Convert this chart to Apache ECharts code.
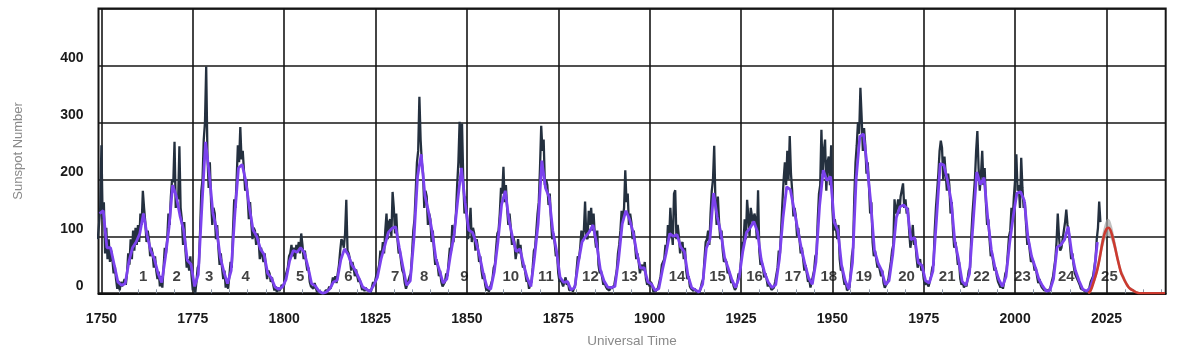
<!DOCTYPE html>
<html>
<head>
<meta charset="utf-8">
<script src="https://cdn.jsdelivr.net/npm/echarts@6/dist/echarts.min.js"></script>
<style>
  html, body { margin: 0; padding: 0; background: #ffffff; }
  #chart { width: 1200px; height: 347px; }
</style>
</head>
<body>
<div id="chart"></div>
<script>
// Observed sunspot number, three samples per year starting at 1749.0
const observedStart = 1749;
const observedPerYear = 3;
const observed = [
  95,120,150, 260,130,160, 70,115,60, 95,55,75, 60,35,48, 25,8,22, 5,20,12, 10,25,15, 35,70,50, 95,60,110,
  75,115,85, 120,90,140, 120,180,150, 125,90,110, 95,65,80, 70,45,65, 40,25,38, 12,30,10, 45,80,70, 95,140,120,
  170,200,195, 266,150,170, 165,258,150, 130,85,125, 75,45,60, 40,65,30, 5,20,0, 20,45,50, 110,180,200, 270,300,398,
  245,185,230, 160,120,150, 140,95,120, 80,50,70, 45,25,40, 10,22,8, 30,55,45, 110,165,150, 200,260,230, 292,235,250,
  215,180,200, 170,130,160, 125,95,115, 110,85,105, 95,60,80, 80,55,70, 45,25,40, 35,20,28, 15,5,12, 2,10,4,
  8,15,10, 15,30,28, 45,65,70, 85,65,80, 60,85,75, 90,70,105, 85,60,75, 55,40,45, 20,12,15, 8,18,10,
  2,6,0, 0,0,0, 0,5,2, 5,12,8, 15,28,22, 30,18,35, 50,75,95, 90,80,105, 164,75,70, 60,40,55,
  45,30,42, 30,20,25, 15,6,10, 4,10,5, 2,5,1, 10,20,15, 25,35,40, 50,75,65, 90,70,110, 140,95,125,
  130,100,178, 150,105,140, 95,70,75, 55,40,35, 18,8,15, 15,30,35, 70,110,130, 180,230,250, 345,270,230, 210,150,180,
  170,120,140, 130,90,110, 75,50,60, 50,30,40, 20,12,15, 20,35,30, 55,80,75, 120,90,115, 140,190,230, 301,220,298,
  200,140,170, 130,95,120, 150,90,115, 105,75,95, 80,55,65, 40,25,35, 15,5,10, 3,10,8, 25,45,50, 80,105,110,
  140,185,175, 222,160,190, 150,120,140, 115,85,100, 90,60,75, 95,70,85, 60,45,50, 35,20,25, 8,15,20, 45,75,80,
  110,140,160, 220,294,250, 270,190,200, 190,155,175, 130,95,105, 90,65,70, 35,20,25, 25,12,20, 28,15,20, 5,2,8,
  3,10,15, 40,65,60, 80,110,95, 110,161,100, 95,145,120, 150,110,140, 100,80,110, 50,35,40, 28,15,20, 12,8,10,
  5,12,8, 6,15,18, 40,70,85, 110,145,130, 150,216,160, 175,120,140, 125,95,110, 85,60,70, 55,35,45, 50,40,55,
  25,15,20, 12,20,15, 3,6,4, 5,10,8, 30,50,55, 60,85,75, 120,95,150, 110,85,175, 181,95,120, 100,70,85,
  90,60,80, 40,25,30, 12,8,10, 4,8,5, 1,3,2, 10,20,25, 60,90,95, 110,85,140, 180,200,259, 160,120,170,
  125,95,110, 75,55,60, 55,35,40, 30,18,22, 12,6,10, 20,35,30, 60,90,85, 130,95,164, 135,100,150, 150,120,140,
  130,95,181, 75,50,55, 45,28,35, 25,12,18, 12,6,8, 10,20,18, 45,75,70, 115,160,200, 230,190,250, 200,276,210,
  180,135,150, 135,100,115, 95,70,80, 60,40,50, 35,20,25, 10,20,18, 40,65,70, 130,175,190, 287,210,250, 270,180,230,
  240,190,260, 150,110,130, 130,95,120, 60,40,45, 28,15,20, 5,2,10, 35,65,80, 170,230,260, 300,280,361, 310,250,290,
  260,210,230, 190,140,160, 90,65,75, 60,45,50, 50,30,40, 18,10,14, 18,25,28, 55,75,85, 165,140,150, 165,140,170,
  170,193,150, 165,140,150, 110,80,95, 120,85,95, 65,45,55, 60,40,45, 25,15,20, 20,12,22, 30,45,50, 110,150,180,
  210,250,268, 255,200,240, 240,180,210, 190,140,160, 110,80,90, 75,50,55, 25,15,20, 10,18,12, 25,40,45, 100,140,170,
  200,250,285, 220,180,210, 250,190,220, 160,120,130, 95,65,70, 55,40,45, 30,20,22, 10,15,8, 20,35,40, 70,100,110,
  150,130,170, 200,244,180, 190,150,238, 185,150,160, 120,85,95, 75,55,60, 55,40,45, 30,18,25, 15,10,12, 5,2,6,
  2,5,10, 20,28,30, 60,90,140, 100,75,80, 80,110,125, 147,120,110, 85,60,70, 50,35,30, 25,20,15, 8,5,6,
  6,2,1, 5,10,20, 20,30,45, 60,95,115, 161,125
];

// Smoothed sunspot number, one value per year centred at mid-year
const smoothedStart = 1749.5;
const smoothed = [
  140,145,80,80,50,20,14,17,55,80,
  90,105,140,102,75,60,35,19,63,116,
  190,170,136,111,58,51,12,33,154,266,
  210,141,113,64,38,17,40,138,220,226,
  197,150,111,100,78,68,35,27,11,7,
  11,24,57,75,72,80,72,47,17,13,
  4,0,2,8,20,23,59,78,68,50,
  40,26,11,7,3,14,28,60,83,107,
  114,117,80,46,14,22,95,205,244,172,
  143,108,61,40,18,25,67,103,164,220,
  160,111,107,90,65,34,11,7,38,91,
  156,180,129,98,73,78,51,27,12,63,
  123,233,185,169,110,75,28,19,21,6,
  10,54,90,100,108,120,87,42,22,11,
  10,12,59,122,145,130,107,70,44,45,
  20,16,5,8,41,70,105,100,103,81,
  73,31,10,6,2,16,79,95,176,134,
  106,63,44,24,10,28,74,107,115,126,
  108,60,35,19,10,15,60,133,187,182,
  148,113,79,51,27,16,55,154,216,198,
  205,125,110,50,22,7,54,200,275,280,
  225,159,76,53,40,15,22,67,133,152,
  155,148,94,98,54,49,22,18,39,131,
  228,225,198,162,91,60,21,14,34,123,
  213,191,203,133,76,45,25,12,29,88,
  136,176,178,163,99,65,46,25,13,4,
  5,25,81,85,94,117,70,40,22,7,
  4,9,29,90
];

// Cycle 25 forecast with its uncertainty range
const forecastYears = [2020,2020.5,2021,2021.5,2022,2022.5,2023,2023.5,2024,2024.5,2025,2025.5,2026,2026.5,2027,2027.5,2028,2028.5,2029,2029.5,2030,2030.5,2031,2031.5,2032,2032.5,2033,2033.5,2034,2041];
const forecastValues = [0,3,10,20,30,42,57,75,92,105,113,115,112,103,90,76,61,48,36,29,22,16,11,8,6,4,2,1,0,0];
const forecastLow  = [0,1,6,15,23,34,47,63,79,91,99,101,98,90,79,66,52,40,30,24,17,12,8,5,4,2,1,0,0,0];
const forecastHigh = [0,6,15,27,39,53,70,90,108,121,129,131,128,118,104,89,72,58,44,36,28,21,15,11,9,7,4,2,1,0];

// Solar cycle numbers and where they are written
const cycleNames = ['1','2','3','4','5','6','7','8','9','10','11','12','13','14','15','16','17','18','19','20','21','22','23','24','25'];
const cycleYears = [1761.4,1770.6,1779.5,1789.5,1804.4,1817.6,1830.4,1838.3,1849.3,1862.0,1871.6,1883.8,1894.5,1907.5,1918.6,1928.7,1939.2,1949.0,1958.6,1970.3,1981.4,1990.8,2002.0,2014.0,2025.8];

// Axis ticks
const yearTicks = [1750,1775,1800,1825,1850,1875,1900,1925,1950,1975,2000,2025];
const minorYearTicks = [1755,1760,1765,1770,1780,1785,1790,1795,1805,1810,1815,1820,1830,1835,1840,1845,1855,1860,1865,1870,1880,1885,1890,1895,1905,1910,1915,1920,1930,1935,1940,1945,1955,1960,1965,1970,1980,1985,1990,1995,2005,2010,2015,2020,2030,2035,2040];
const yTickLabels = [0,100,200,300,400];

const xMin = 1749.2, xMax = 2041.2;
const cycleLabelLevel = 29;
const font = "'Liberation Sans', Arial, Helvetica, sans-serif";
const gridColor = '#161616';

const observedPoints = observed.map((v, i) => [observedStart + i / observedPerYear, v]);
const smoothedPoints = smoothed.map((v, i) => [smoothedStart + i, v]);
const forecastPoints = forecastYears.map((y, i) => [y, forecastValues[i]]);
const cyclePoints = cycleYears.map((y, i) => ({ value: [y, cycleLabelLevel], name: cycleNames[i] }));

// Shaded uncertainty band: upper bound left to right, then lower bound back
function renderBand(params, api) {
  if (params.dataIndex !== 0) return null;
  const pts = [];
  for (let i = 0; i < forecastYears.length; i++) pts.push(api.coord([forecastYears[i], forecastHigh[i]]));
  for (let i = forecastYears.length - 1; i >= 0; i--) pts.push(api.coord([forecastYears[i], forecastLow[i]]));
  return {
    type: 'polygon',
    shape: { points: pts, smooth: 0.25 },
    style: { fill: 'rgba(165,165,165,0.7)', stroke: 'none' }
  };
}

const chart = echarts.init(document.getElementById('chart'), null, { renderer: 'canvas' });
chart.setOption({
  animation: false,
  backgroundColor: '#ffffff',
  grid: {
    left: 98.5, right: 34.3, top: 8.5, bottom: 53.7,
    outerBoundsMode: 'none', containLabel: false,
    show: true, borderColor: gridColor, borderWidth: 2, backgroundColor: 'transparent'
  },
  xAxis: [
    {
      type: 'value', min: xMin, max: xMax,
      axisLine: { show: true, onZero: false, lineStyle: { color: '#111', width: 2 } },
      axisTick: { show: false, customValues: yearTicks },
      axisLabel: {
        customValues: yearTicks, margin: 19, formatter: v => String(v),
        fontFamily: font, fontSize: 14, fontWeight: 'bold', color: '#1a1a1a'
      },
      splitLine: { show: true, lineStyle: { color: gridColor, width: 1.6 } },
      name: 'Universal Time', nameLocation: 'middle', nameGap: 41,
      nameTextStyle: { fontFamily: font, fontSize: 13.5, color: '#8a8a8a' }
    },
    {
      type: 'value', min: xMin, max: xMax, position: 'bottom',
      axisLine: { show: false },
      axisTick: { show: true, inside: true, length: 4, customValues: minorYearTicks,
                  lineStyle: { color: '#8d97a6', width: 1 } },
      axisLabel: { show: false },
      splitLine: { show: false }
    }
  ],
  yAxis: {
    type: 'value', min: 0, max: 500, interval: 100,
    axisLine: { show: false },
    axisTick: { show: false },
    axisLabel: {
      margin: 15, verticalAlign: 'bottom',
      formatter: v => (yTickLabels.indexOf(v) >= 0 ? String(v) : ''),
      fontFamily: font, fontSize: 14, fontWeight: 'bold', color: '#1a1a1a'
    },
    splitLine: { show: true, lineStyle: { color: gridColor, width: 1.6 } },
    name: 'Sunspot Number', nameLocation: 'middle', nameGap: 74,
    nameTextStyle: { fontFamily: font, fontSize: 13, color: '#8a8a8a' }
  },
  series: [
    {
      name: 'Range', type: 'custom', renderItem: renderBand,
      data: [[forecastYears[0], forecastValues[0]]], encode: { x: 0, y: 1 },
      z: 3, silent: true
    },
    {
      name: 'Observed', type: 'line', data: observedPoints,
      symbol: 'none', sampling: null,
      lineStyle: { color: '#24303f', width: 2.3, join: 'bevel' }, z: 4
    },
    {
      name: 'Smoothed', type: 'line', data: smoothedPoints,
      symbol: 'none',
      lineStyle: { color: '#7b42ee', width: 2.8 }, z: 5
    },
    {
      name: 'Forecast', type: 'line', data: forecastPoints,
      symbol: 'none', smooth: 0.3,
      lineStyle: { color: '#cc3a2f', width: 2.6 }, z: 6
    },
    {
      name: 'Cycle', type: 'scatter', data: cyclePoints,
      symbolSize: 1, itemStyle: { color: 'rgba(0,0,0,0)' }, z: 7, silent: true,
      label: {
        show: true, position: 'inside', formatter: p => p.name,
        fontFamily: font, fontSize: 15, fontWeight: 'bold', color: '#111'
      }
    }
  ]
});
</script>
</body>
</html>
